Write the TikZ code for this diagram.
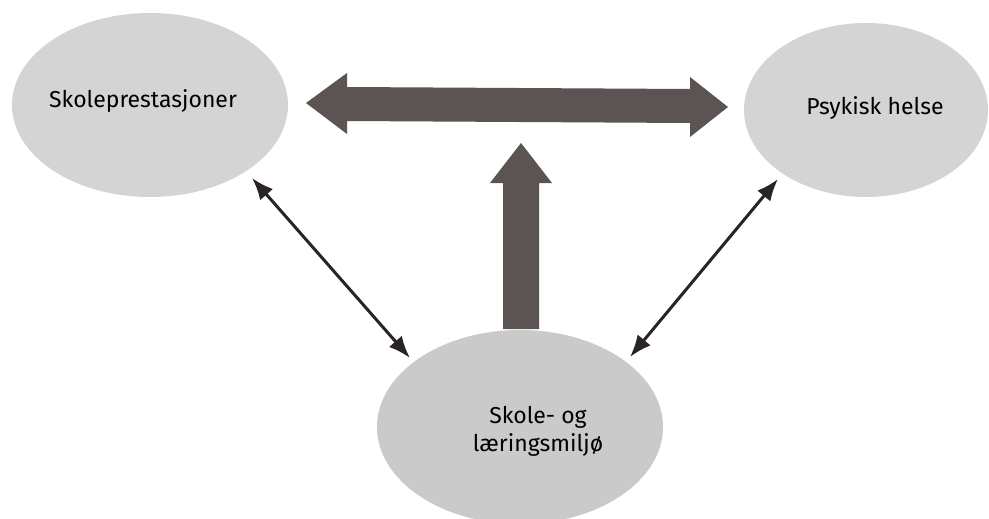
\documentclass[tikz,border=0pt]{standalone}
\usepackage{fontspec}
\setmainfont{Fira Sans}
\usetikzlibrary{arrows.meta,shapes.geometric}
\definecolor{ellfill}{HTML}{D4D4D4}
\definecolor{ellfillB}{HTML}{CACACA}
\definecolor{bigarrow}{HTML}{5C5353}
\definecolor{thinarrow}{HTML}{2B2424}
\tikzset{
  ell/.style={ellipse, draw=none, fill=ellfill, inner sep=0pt},
  lbl/.style={font=\fontsize{23}{28}\selectfont, text=black, align=center},
  thin/.style={draw=thinarrow, line width=3pt, {Latex[length=22pt,width=17pt]}-{Latex[length=22pt,width=17pt]}},
  thick/.style={fill=bigarrow, draw=none}
}
\begin{document}
\begin{tikzpicture}[x=1pt,y=-1pt]
\useasboundingbox (0,0) rectangle (989,519);
\clip (0,0) rectangle (989,519);
\fill[white] (0,0) rectangle (989,519);
% ellipses
\node[ell, minimum width=276pt, minimum height=184pt] (L) at (150,105) {};
\node[ell, minimum width=244pt, minimum height=174pt] (R) at (866,110) {};
\node[ell, fill=ellfillB, minimum width=286pt, minimum height=194pt] (B) at (520,427) {};
% labels
\node[lbl] (Lt) at (143,101) {Skoleprestasjoner};
\node[lbl] (Rt) at (875,108) {Psykisk helse};
\node[lbl] (Bt) at (538,431) {Skole- og\\læringsmiljø};
% big horizontal double arrow
\path[thick] (306,103) -- (347,73) -- (347,87) -- (690,89) -- (690,77) -- (728,107)
  -- (690,137) -- (690,123) -- (347,121) -- (347,134) -- cycle;
% big vertical arrow
\path[thick] (521,143) -- (552,183) -- (539,183) -- (539,329) -- (503,329) -- (503,183) -- (490,183) -- cycle;
% thin double arrows
\coordinate (la) at (252,178);
\coordinate (lb) at (410,358);
\coordinate (ra) at (778,179);
\coordinate (rb) at (630,357);
\draw[thin] (la) -- (lb);
\draw[thin] (ra) -- (rb);
\end{tikzpicture}
\end{document}
